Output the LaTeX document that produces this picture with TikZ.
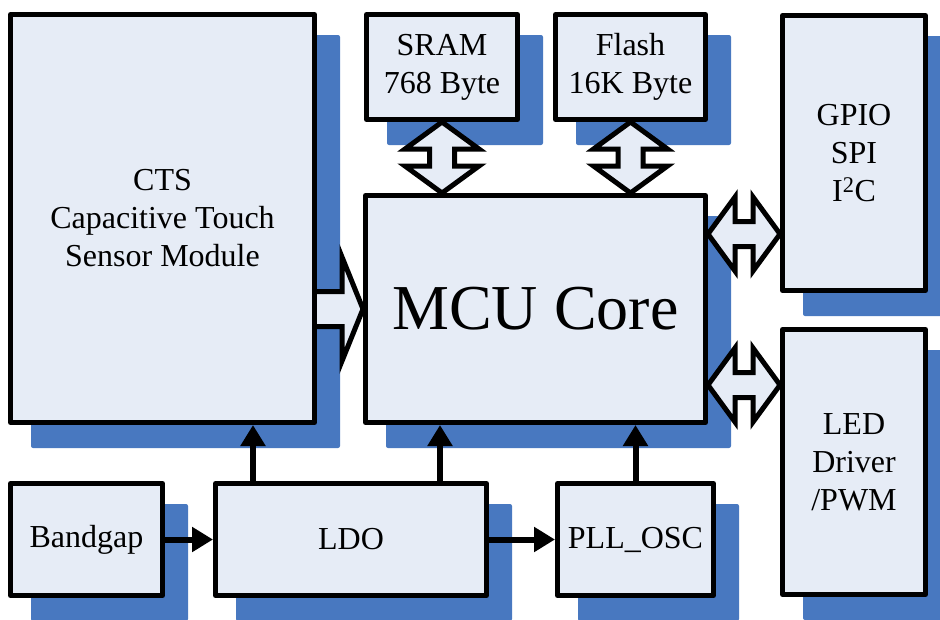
\documentclass[tikz,border=0pt]{standalone}
\usepackage{fontspec}
\setmainfont{Liberation Serif}
\usepackage{xcolor}
\definecolor{BoxFill}{HTML}{E6ECF6}
\definecolor{ShadowBlue}{HTML}{4878C0}
\usetikzlibrary{calc,arrows.meta,backgrounds}
\newcommand\Off{23}
\newcommand\HeadW{37pt}
\newcommand\ShaftW{12.5pt}
\newcommand\HeadL{27pt}
\tikzstyle{blk}=[rectangle,draw=black,line width=5pt,line join=round,fill=BoxFill,
                 align=center,inner sep=0pt,font=\fontsize{32}{38}\selectfont]
\tikzstyle{shadowbox}=[fill=ShadowBlue,rounded corners=2pt]
\tikzstyle{bus}=[draw=black,line width=5pt,line join=miter,fill=BoxFill]
\tikzstyle{link}=[line width=6pt,-{Triangle[length=21pt,width=24pt]}]
% hollow double arrows between two tips
\newcommand\DualV[2]{\draw[bus] let \p1=(#1), \p2=(#2) in
  (\x1,\y1) -- (\x1+\HeadW,\y1-\HeadL) -- (\x1+\ShaftW,\y1-\HeadL) -- (\x1+\ShaftW,\y2+\HeadL)
  -- (\x1+\HeadW,\y2+\HeadL) -- (\x1,\y2) -- (\x1-\HeadW,\y2+\HeadL) -- (\x1-\ShaftW,\y2+\HeadL)
  -- (\x1-\ShaftW,\y1-\HeadL) -- (\x1-\HeadW,\y1-\HeadL) -- cycle;}
\newcommand\DualH[2]{\draw[bus] let \p1=(#1), \p2=(#2) in
  (\x1,\y1) -- (\x1+\HeadL,\y1+\HeadW) -- (\x1+\HeadL,\y1+\ShaftW) -- (\x2-\HeadL,\y1+\ShaftW)
  -- (\x2-\HeadL,\y1+\HeadW) -- (\x2,\y1) -- (\x2-\HeadL,\y1-\HeadW) -- (\x2-\HeadL,\y1-\ShaftW)
  -- (\x1+\HeadL,\y1-\ShaftW) -- (\x1+\HeadL,\y1-\HeadW) -- cycle;}
\begin{document}
\begin{tikzpicture}[x=1pt,y=-1pt]
  \useasboundingbox (0,0) rectangle (940,619);
  \node[blk,minimum width=304pt,minimum height=408pt] (cts) at (162.5,218.5) {CTS\\Capacitive Touch\\Sensor Module};
  \node[blk,minimum width=151pt,minimum height=105pt] (sram) at (442,67) {SRAM\\768 Byte};
  \node[blk,minimum width=150pt,minimum height=105pt] (flash) at (630.5,67) {Flash\\16K Byte};
  \node[blk,minimum width=143pt,minimum height=275pt] (gpio) at (854,153) {GPIO\\SPI\\I\textsuperscript{2}C};
  \node[blk,minimum width=143pt,minimum height=265pt] (led) at (854,462) {LED\\Driver\\/PWM};
  \node[blk,minimum width=340pt,minimum height=227pt,font=\fontsize{64}{72}\selectfont] (mcu) at (535.5,309) {MCU Core};
  \node[blk,minimum width=152pt,minimum height=112pt] (bandgap) at (86.5,539.5) {Bandgap};
  \node[blk,minimum width=271pt,minimum height=112pt] (ldo) at (351,539.5) {LDO};
  \node[blk,minimum width=156pt,minimum height=112pt] (pll) at (635.5,539.5) {PLL\_OSC};
  % shadows
  \begin{scope}[on background layer]
    \foreach \n in {cts,sram,flash,gpio,led,mcu,bandgap,ldo,pll}
      \fill[shadowbox] ([shift={(\Off,\Off)}]\n.north west) rectangle ([shift={(\Off,\Off)}]\n.south east);
  \end{scope}
  % supply and clock lines
  \coordinate (t1) at ([xshift=40pt]ldo.north west);
  \coordinate (t2) at ([xshift=227pt]ldo.north west);
  \draw[link] (t1) -- (t1 |- cts.south);
  \draw[link] (t2) -- (t2 |- mcu.south);
  \draw[link] (pll.north) -- (pll.north |- mcu.south);
  \draw[link] (bandgap.east) -- (ldo.west);
  \draw[link] (ldo.east) -- (pll.west);
  % buses
  \DualV{sram.south}{sram.south |- mcu.north}
  \DualV{flash.south}{flash.south |- mcu.north}
  \coordinate (g1) at ([yshift=-41pt]mcu.north east);
  \coordinate (g2) at ([yshift=40pt]mcu.south east);
  \DualH{g1}{g1 -| gpio.west}
  \DualH{g2}{g2 -| led.west}
  \draw[bus] let \p1=(cts.east |- mcu.west), \p2=(mcu.west) in
    (\x1,\y1+17.5pt) -- (\x2-21pt,\y1+17.5pt) -- (\x2-21pt,\y1+52pt) -- (\x2,\y1)
    -- (\x2-21pt,\y1-52pt) -- (\x2-21pt,\y1-17.5pt) -- (\x1,\y1-17.5pt);
\end{tikzpicture}
\end{document}
